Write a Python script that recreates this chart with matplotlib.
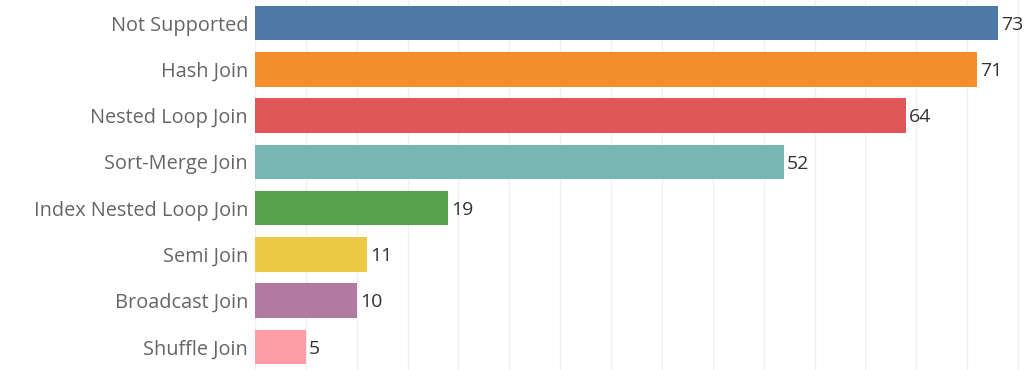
import matplotlib.pyplot as plt
import numpy as np

joins = ['Not Supported', 'Hash Join', 'Nested Loop Join', 'Sort-Merge Join',
         'Index Nested Loop Join', 'Semi Join', 'Broadcast Join', 'Shuffle Join']
counts = [73, 71, 64, 52, 19, 11, 10, 5]
colors = ['#4e79a7', '#f28e2b', '#e15759', '#76b7b2',
          '#59a14f', '#edc948', '#b07aa1', '#ff9da7']

plt.rcParams['font.family'] = ['Open Sans', 'DejaVu Sans']

fig = plt.figure(figsize=(10.32, 3.70), dpi=100)
ax = fig.add_axes([255 / 1032, 0, (1020 - 255) / 1032, 1])

y = np.arange(len(joins))
ax.barh(y, counts, height=0.75, color=colors, zorder=2)
for i, c in enumerate(counts):
    ax.text(c + 0.3, i + 0.04, str(c), va='center', ha='left', fontsize=14, color='#333333')

ax.set_yticks(y)
ax.set_yticklabels(joins, fontsize=14.3, color='#666666')
ax.set_ylim(len(joins) - 0.5, -0.5)
ax.set_xlim(0, 75.2)
ax.set_xticks(np.arange(0, 76, 5))
ax.set_xticklabels([])
ax.tick_params(length=0, pad=5)
ax.grid(axis='x', color='#f0f0f0', linewidth=1, zorder=0)
for s in ax.spines.values():
    s.set_visible(False)

fig.savefig('out.png', dpi=100)
